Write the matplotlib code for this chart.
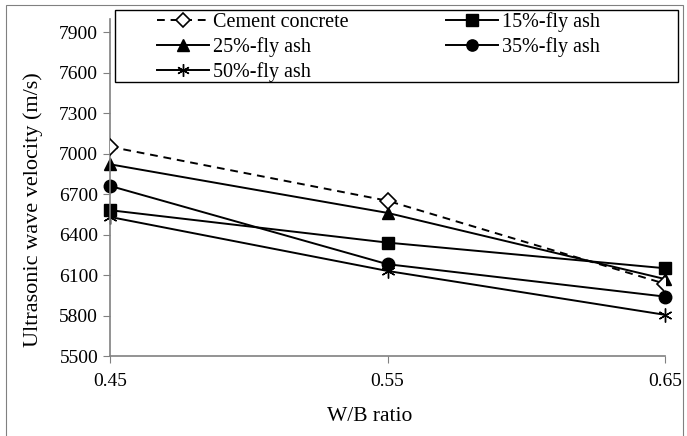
import matplotlib.pyplot as plt
from matplotlib.patches import Rectangle

plt.rcParams['font.family'] = ['Liberation Serif', 'DejaVu Serif']

# Data
wb_ratio = [0.45, 0.55, 0.65]
cement = [7050, 6650, 6035]
fly15 = [6580, 6340, 6150]
fly25 = [6920, 6560, 6070]
fly35 = [6760, 6180, 5940]
fly50 = [6530, 6130, 5805]

y_ticks = [5500, 5800, 6100, 6400, 6700, 7000, 7300, 7600, 7900]
x_ticks = [0.45, 0.55, 0.65]

W, H = 687, 436
fig = plt.figure(figsize=(W / 100, H / 100), dpi=100)
ax = fig.add_axes([110 / W, 1 - 356 / H, (665 - 110) / W, (356 - 18.5) / H])

ax.plot(wb_ratio, cement, color='black', lw=1.4, linestyle=(0, (4, 3)), marker='D',
        markersize=8, markerfacecolor='white', markeredgecolor='black', markeredgewidth=1.2,
        label='Cement concrete', zorder=5)
ax.plot(wb_ratio, fly25, color='black', lw=1.4, marker='^', markersize=9,
        label='25%-fly ash', clip_on=False)
ax.plot(wb_ratio, fly50, color='black', lw=1.4, marker=(6, 2, 0), markersize=10,
        markeredgewidth=1.0, label='50%-fly ash', clip_on=False)
ax.plot(wb_ratio, fly15, color='black', lw=1.4, marker='s', markersize=9,
        label='15%-fly ash', clip_on=False)
ax.plot(wb_ratio, fly35, color='black', lw=1.4, marker='o', markersize=9,
        label='35%-fly ash', clip_on=False)

ax.set_xlim(0.45, 0.65)
ax.set_ylim(5500, 8000)
ax.set_xticks(x_ticks)
ax.set_xticklabels(['0.45', '0.55', '0.65'])
ax.set_yticks(y_ticks)

for side in ['top', 'right']:
    ax.spines[side].set_visible(False)
for side in ['left', 'bottom']:
    ax.spines[side].set_color('#808080')
    ax.spines[side].set_linewidth(1.2)
ax.tick_params(axis='both', direction='out', length=5, color='#808080', labelsize=14)
ax.tick_params(axis='x', pad=7)

ax.set_xlabel('W/B ratio', fontsize=15.5)
ax.set_ylabel('Ultrasonic wave velocity (m/s)', fontsize=16)
ax.xaxis.set_label_coords(0.468, -0.15)
ax.yaxis.set_label_coords(-0.121, 0.433)

# legend without frame, frame drawn separately
fig.legend(loc='upper left', ncol=2, bbox_to_anchor=(157 / W, 1 - 12 / H),
           bbox_transform=fig.transFigure, frameon=False, fontsize=14.5,
           handlelength=2.6, borderpad=0, borderaxespad=0,
           labelspacing=0.25, handletextpad=0.2, columnspacing=4.8, markerscale=0.9)
fig.patches.append(Rectangle((115 / W, 1 - 82 / H), (678 - 115) / W, 72 / H,
                             transform=fig.transFigure, fill=False,
                             edgecolor='black', linewidth=1.0))

# outer chart border
fig.patches.append(Rectangle((6 / W, -0.1), (683 - 6) / W, 1.1 - 5 / H,
                             transform=fig.transFigure, fill=False,
                             edgecolor='#808080', linewidth=0.8))

fig.savefig('out.png', dpi=100)
